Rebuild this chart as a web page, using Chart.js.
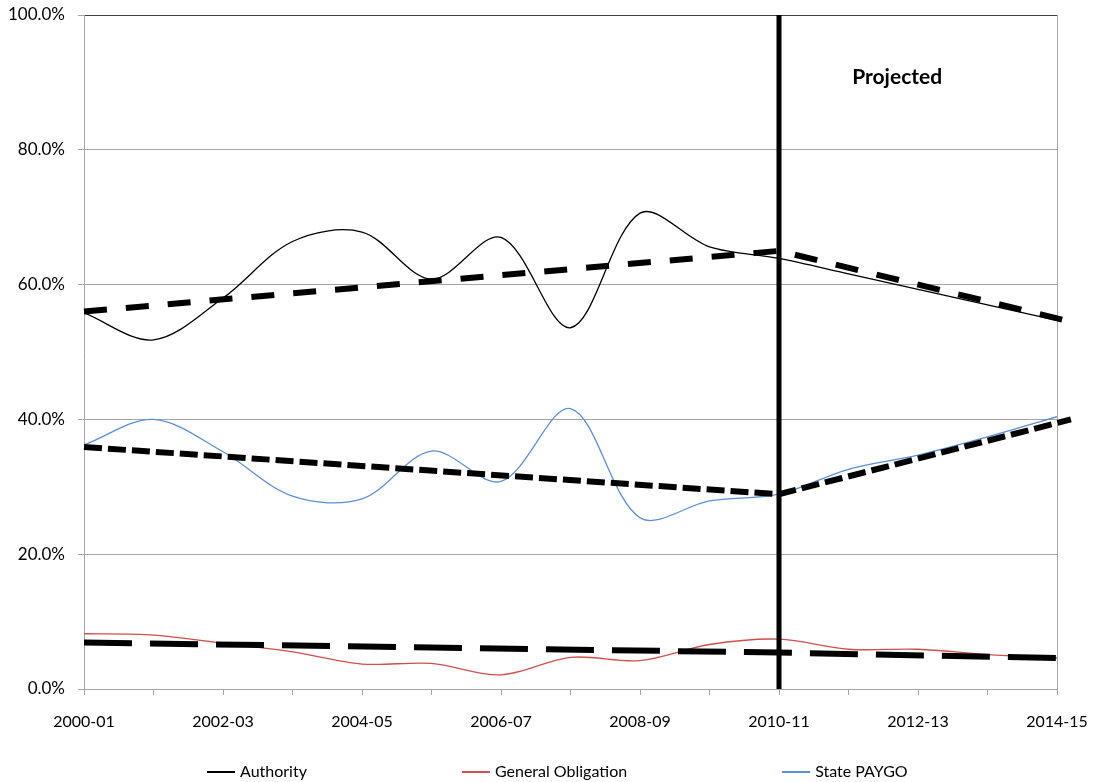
<!DOCTYPE html>
<html>
<head>
<meta charset="utf-8">
<script src="https://cdn.jsdelivr.net/npm/chart.js@4/dist/chart.umd.min.js"></script>
<style>
  html, body { margin: 0; padding: 0; background: #fff; }
</style>
</head>
<body>
<canvas id="lineChart" width="1094" height="782"></canvas>
<script>
// share of funding by source, percent
const periods = ["2000-01", "2001-02", "2002-03", "2003-04", "2004-05", "2005-06", "2006-07", "2007-08",
  "2008-09", "2009-10", "2010-11", "2011-12", "2012-13", "2013-14", "2014-15"];
const authority = [55.8, 51.8, 58.0, 66.4, 67.8, 60.8, 67.0, 53.6, 70.6, 65.6, 63.9, 61.6, 59.3, 57.0, 54.7];
const generalObligation = [8.2, 8.0, 6.8, 5.5, 3.7, 3.8, 2.1, 4.7, 4.2, 6.6, 7.4, 5.9, 5.9, 5.1, 4.6];
const statePaygo = [36.2, 40.0, 35.2, 28.6, 28.2, 35.3, 30.8, 41.6, 25.4, 27.9, 28.9, 32.6, 34.7, 37.4, 40.4];

// dashed trend lines (period index, percent)
const trendX = [0, 10, 14.2];
const authorityTrend = [56.0, 65.0, 54.5];
const paygoTrend = [35.9, 28.9, 40.0];
const goTrendX = [0, 10, 14];
const goTrend = [6.9, 5.4, 4.6];

// divider where projections start
const projectedFrom = 10;
const projectedText = "Projected";
const projectedLabelAt = [11.7, 90.8];

const gridGray = "#a6a6a6";

function points(xs, ys) {
  return ys.map((v, i) => ({ x: xs[i], y: v }));
}
const idx = periods.map((p, i) => i);

Chart.defaults.font.family = "Lato";
Chart.defaults.font.size = 16;
Chart.defaults.color = "#000";

// "Projected" caption
const projectedLabel = {
  id: "projectedLabel",
  afterDatasetsDraw(chart) {
    const { ctx, scales: { x, y } } = chart;
    ctx.save();
    ctx.font = "bold 21px Lato";
    ctx.fillStyle = "#000";
    ctx.textAlign = "center";
    ctx.textBaseline = "middle";
    ctx.fillText(projectedText, x.getPixelForValue(projectedLabelAt[0]), y.getPixelForValue(projectedLabelAt[1]));
    ctx.restore();
  },
};

// wide-spaced legend like the spreadsheet one
const bottomLegend = {
  id: "bottomLegend",
  afterDraw(chart) {
    const ctx = chart.ctx;
    let xPos = 207;
    const yPos = 772;
    ctx.save();
    ctx.font = "16px Lato";
    ctx.textBaseline = "middle";
    ctx.textAlign = "left";
    chart.data.datasets.filter((d) => d.inLegend).forEach((d) => {
      ctx.strokeStyle = d.borderColor;
      ctx.lineWidth = 2;
      ctx.beginPath();
      ctx.moveTo(xPos, yPos);
      ctx.lineTo(xPos + 28, yPos);
      ctx.stroke();
      ctx.fillStyle = "#000";
      ctx.fillText(d.label, xPos + 33, yPos);
      xPos += 33 + ctx.measureText(d.label).width + 155;
    });
    ctx.restore();
  },
};

const lineChart = document.getElementById("lineChart");

new Chart(lineChart, {
  type: "line",
  data: {
    datasets: [
      {
        label: "Authority",
        data: points(idx, authority),
        borderColor: "#000000",
        borderWidth: 1.3,
        tension: 0.33,
        pointRadius: 0,
        order: 3,
        inLegend: true,
      },
      {
        label: "General Obligation",
        data: points(idx, generalObligation),
        borderColor: "#d0504c",
        borderWidth: 1.3,
        tension: 0.33,
        pointRadius: 0,
        order: 3,
        inLegend: true,
      },
      {
        label: "State PAYGO",
        data: points(idx, statePaygo),
        borderColor: "#5b8fd8",
        borderWidth: 1.3,
        tension: 0.33,
        pointRadius: 0,
        order: 3,
        inLegend: true,
      },
      {
        label: "Authority trend",
        data: points(trendX, authorityTrend),
        borderColor: "#000",
        borderWidth: 6,
        borderDash: [23, 19],
        pointRadius: 0,
        clip: false,
        order: 2,
      },
      {
        label: "State PAYGO trend",
        data: points(trendX, paygoTrend),
        borderColor: "#000",
        borderWidth: 6,
        borderDash: [18, 6],
        pointRadius: 0,
        clip: false,
        order: 2,
      },
      {
        label: "General Obligation trend",
        data: points(goTrendX, goTrend),
        borderColor: "#000",
        borderWidth: 6,
        borderDash: [48, 18],
        pointRadius: 0,
        order: 2,
      },
      {
        label: "Projected",
        data: [{ x: projectedFrom, y: 0 }, { x: projectedFrom, y: 100 }],
        borderColor: "#000",
        borderWidth: 5,
        pointRadius: 0,
        order: 1,
      },
    ],
  },
  options: {
    responsive: false,
    animation: false,
    layout: {
      padding: { top: 15, right: 37, bottom: 53, left: 0 },
    },
    plugins: {
      legend: { display: false },
      tooltip: { enabled: false },
    },
    scales: {
      x: {
        type: "linear",
        min: 0,
        max: 14,
        afterFit: (scale) => {
          scale.height = 40;
          scale.paddingLeft = 0;
          scale.paddingRight = 0;
        },
        ticks: {
          stepSize: 1,
          autoSkip: false,
          maxRotation: 0,
          padding: 17,
          callback: (v) => (Number.isInteger(v) && v % 2 === 0 ? periods[v] : ""),
        },
        grid: {
          color: (c) => (c.tick && c.tick.value === 14 ? gridGray : "transparent"),
          tickColor: gridGray,
          tickLength: 6,
        },
        border: { color: gridGray },
      },
      y: {
        min: 0,
        max: 100,
        afterFit: (scale) => {
          scale.width = 84;
          scale.paddingTop = 0;
          scale.paddingBottom = 0;
        },
        ticks: {
          stepSize: 20,
          padding: 13,
          font: { size: 17 },
          callback: (v) => v.toFixed(1) + "%",
        },
        grid: {
          color: (c) => (c.tick && c.tick.value === 100 ? "#404040" : gridGray),
          tickColor: gridGray,
          tickLength: 6,
        },
        border: { color: gridGray },
      },
    },
  },
  plugins: [projectedLabel, bottomLegend],
});
</script>
</body>
</html>
